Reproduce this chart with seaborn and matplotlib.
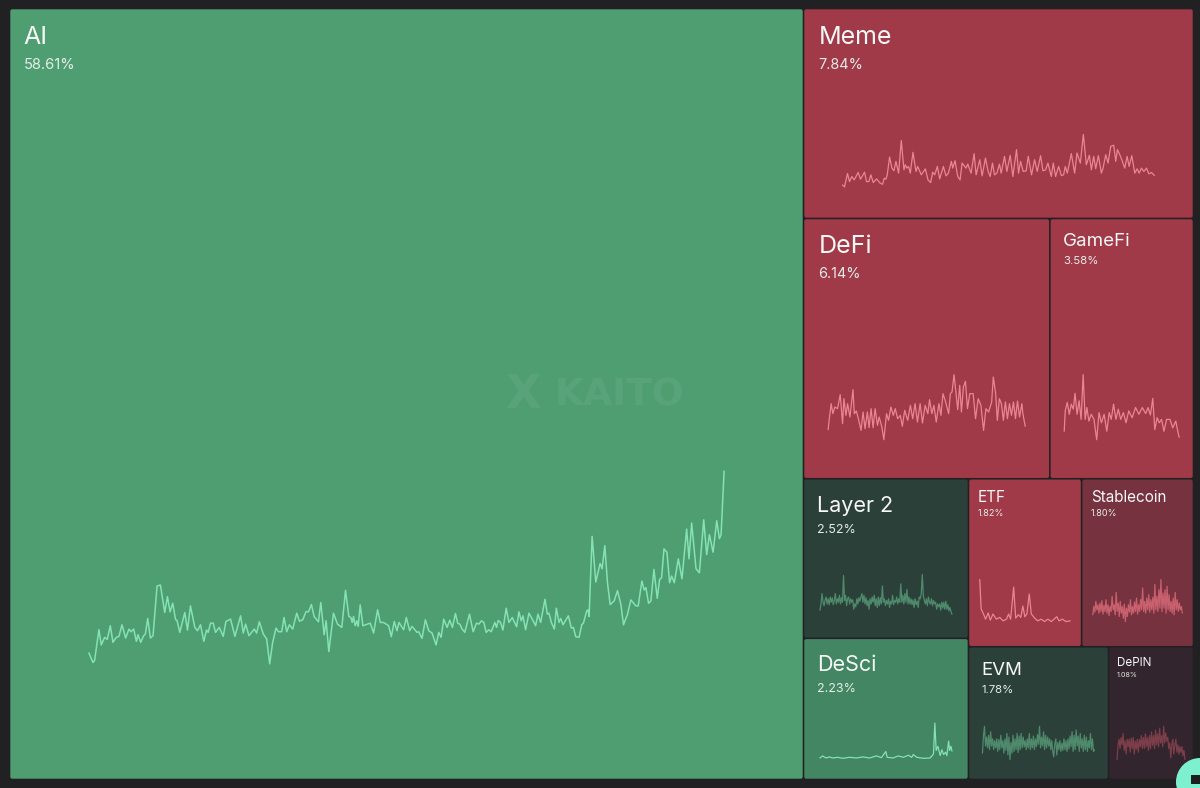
"""
Narrative mindshare treemap with a small trend line in every sector.
"""

import matplotlib.pyplot as plt
from matplotlib.patches import Circle, FancyBboxPatch, Rectangle
import seaborn as sns


# Sector names and mindshare (%)
SECTORS = ['AI', 'Meme', 'DeFi', 'GameFi', 'Layer 2', 'DeSci',
           'ETF', 'Stablecoin', 'EVM', 'DePIN']
SHARES = [58.61, 7.84, 6.14, 3.58, 2.52, 2.23, 1.82, 1.80, 1.78, 1.08]

# Trend series (relative units, each has its own scale)
AI_T = [0, 12, 17, 30, 37, 47, 55, 64, 72, 82, 90, 99, 110, 120, 126, 134, 142, 147, 155, 164,
        169, 176, 184, 192, 204, 214, 227, 235, 243, 251, 259, 264, 272, 287, 295, 304, 317, 325,
        334, 344, 352, 357, 364, 372, 379, 390, 402, 410, 424, 437, 454, 462, 469, 479, 495, 502,
        510, 522, 532, 541, 550, 560, 567, 577, 584, 592, 600, 610, 622, 630, 640, 650, 657, 666,
        674, 687, 694, 704, 710, 718, 732, 744, 757, 768, 778, 784, 788, 792, 797, 802, 806, 812,
        820, 842, 852, 864, 872, 882, 897, 905, 914, 922, 928, 942, 950, 960, 967, 974, 982, 987,
        997, 1007, 1017, 1027, 1039, 1047, 1054, 1062, 1072, 1080, 1088, 1097, 1104, 1110, 1117,
        1125, 1139, 1150, 1160, 1167, 1175, 1182, 1189, 1197, 1204, 1215, 1220, 1225, 1232, 1239,
        1249, 1257, 1267, 1280, 1287, 1294, 1299, 1307, 1317, 1327, 1337, 1344, 1352, 1365, 1372,
        1377, 1384, 1393, 1399, 1407, 1412, 1419, 1435, 1444, 1450, 1457, 1467, 1475, 1480, 1490,
        1494, 1497, 1506, 1517, 1530, 1536, 1544, 1552, 1560, 1572, 1582, 1592, 1600, 1612, 1622,
        1637, 1644, 1655, 1662, 1667, 1675, 1682, 1691, 1701, 1708, 1714, 1721, 1730, 1738, 1744,
        1752, 1764, 1775, 1789, 1796, 1804, 1817, 1827, 1840, 1849, 1857, 1868, 1879, 1887, 1892,
        1901]
AI_V = [38, 9, 15, 108, 62, 85, 79, 120, 70, 85, 88, 123, 83, 110, 102, 110, 73, 93, 70, 90,
        95, 142, 83, 90, 240, 243, 160, 208, 162, 188, 140, 135, 100, 160, 107, 180, 115, 105,
        123, 73, 107, 100, 128, 128, 100, 115, 88, 133, 140, 88, 150, 98, 125, 90, 110, 98,
        132, 95, 80, 5, 70, 113, 102, 102, 145, 102, 123, 110, 158, 134, 138, 163, 162, 184,
        148, 132, 190, 93, 135, 42, 158, 125, 115, 227, 148, 145, 130, 148, 120, 135, 118, 183,
        120, 128, 98, 168, 130, 130, 120, 87, 133, 105, 130, 108, 145, 105, 118, 110, 100, 102,
        82, 138, 105, 98, 62, 100, 85, 140, 115, 137, 115, 157, 127, 125, 110,
        100, 155, 102, 128, 125, 135, 130, 100, 108, 102, 130, 115, 136, 130, 107,
        173, 130, 145, 117, 162, 135, 150, 108, 158, 140, 120, 155, 130, 200, 155,
        158, 130, 110, 173, 130, 142, 123, 150, 113, 115, 87, 85, 123, 128, 165,
        168, 148, 390, 252, 308, 292, 362, 250, 184, 195, 226, 185, 123, 155, 198,
        180, 180, 255, 228, 235, 188, 195, 290, 203, 260, 265, 352, 342, 250, 270,
        250, 322, 262, 412, 322, 430, 292, 280, 440, 335, 395, 342, 437, 383, 395,
        587]

MEME_T = [0, 6, 15, 21, 28, 35, 47, 54, 66, 72, 79, 85, 92, 102, 113, 120, 125, 130, 134, 141,
          148, 154, 160, 168, 176, 184, 188, 193, 198, 203, 211, 220, 225, 236, 248, 256, 264,
          270, 276, 284, 291, 302, 310, 317, 326, 330, 337, 345, 352, 358, 370, 375, 385, 394,
          400, 411, 418, 428, 436, 442, 449, 455, 462, 470, 475, 485, 492, 502, 510, 521, 527,
          533, 541, 550, 556, 566, 575, 583, 593, 600, 608, 615, 625, 631, 638, 647, 655, 662,
          667, 673, 685, 695, 702, 712, 721, 730, 739, 745, 752, 758, 766, 775, 780, 788, 795,
          803, 812, 818, 823, 830, 836, 845, 852, 858, 866, 875, 882, 888, 895, 902, 910, 917,
          925, 934]
MEME_V = [10, 4, 44, 20, 35, 25, 47, 27, 48, 20, 20, 40, 17, 28, 15, 12, 30, 27, 40, 93,
          60, 52, 80, 45, 142, 55, 70, 60, 65, 45, 107, 50, 65, 40, 58, 25, 17,
          48, 40, 65, 28, 65, 37, 45, 80, 60, 82, 35, 25, 75, 60, 72, 45, 103,
          40, 85, 37, 90, 50, 35, 75, 40, 45, 72, 45, 95, 50, 98, 35, 115, 45,
          80, 50, 52, 95, 40, 85, 50, 97, 52, 55, 75, 35, 75, 35, 65, 38, 40,
          65, 45, 103, 45, 105, 75, 160, 70, 98, 55, 95, 58, 97, 45, 60, 100, 75,
          125, 128, 80, 115, 100, 85, 60, 95, 65, 97, 45, 58, 45, 60, 50, 60, 43,
          47, 38]

DEFI_T = [0, 3, 9, 14, 20, 28, 36, 43, 47, 53, 58, 65, 74, 78, 84, 90, 98, 104, 110, 117, 122,
          128, 134, 140, 147, 152, 160, 166, 174, 180, 187, 194, 200, 207, 215, 221, 228, 237,
          245, 252, 259, 266, 274, 281, 289, 297, 302, 309, 315, 322, 330, 336, 342, 350, 359,
          364, 369, 375, 380, 386, 392, 397, 403, 409, 415, 422, 432, 439, 447, 455, 463, 470,
          478, 487, 492, 499, 504, 510, 516, 522, 528, 534, 540, 546, 552, 558, 564, 570, 577,
          580, 587]
DEFI_V = [32, 60, 110, 80, 100, 95, 137, 50, 125, 75, 110, 70, 152, 80, 88, 65, 30, 85, 35, 85, 38,
          95, 38, 95, 45, 70, 40, 2, 80, 60, 100, 75, 95, 65, 75, 42, 90, 60,
          105, 65, 110, 55, 110, 52, 105, 80, 122, 80, 105, 55, 110, 75, 140, 115, 80,
          140, 145, 197, 150, 92, 165, 85, 160, 177, 95, 140, 140, 65, 125, 105, 30, 95,
          85, 115, 190, 140, 60, 125, 110, 60, 115, 65, 110, 75, 115, 65, 118, 70, 110,
          80, 42]

GAMEFI_T = [0, 3, 9, 15, 21, 27, 32, 38, 44, 50, 56, 62, 67, 73, 80, 88, 96, 103, 110, 118, 126,
            133, 139, 146, 153, 160, 167, 175, 183, 191, 201, 211, 221, 231, 241, 248, 255, 262,
            268, 275, 281, 288, 295, 303, 313, 321, 330, 336, 340]
GAMEFI_V = [30, 90, 115, 80, 110, 95, 142, 80, 120, 65, 197, 65, 100, 60, 80, 65, 5, 85, 55, 80, 30,
            85, 65, 110, 65, 95, 65, 85, 55, 90, 70, 100, 80, 100, 82, 100, 78, 127,
            35, 70, 55, 65, 30, 65, 65, 40, 60, 30, 12]

# Dense series, one value per sample
LAYER2_V = [12, 30, 60, 35, 25, 42, 50, 30, 45, 28, 50, 35, 48, 28, 40, 60, 30, 45, 35, 55,
            30, 48, 35, 112, 40, 55, 25, 45, 50, 30, 45, 35, 42, 15, 30, 22, 45, 30, 48, 38,
            50, 60, 35, 55, 30, 48, 25, 40, 15, 45, 30, 50, 35, 55, 25, 45, 20, 50, 25, 48,
            30, 82, 35, 45, 25, 40, 30, 45, 20, 38, 30, 55, 28, 40, 35, 50, 30, 45, 35, 88,
            35, 55, 30, 60, 35, 72, 30, 50, 30, 45, 28, 42, 20, 45, 28, 38, 20, 50, 45, 60,
            115, 55, 40, 30, 45, 25, 50, 35, 30, 45, 25, 40, 30, 35, 15, 30, 22, 30, 12, 35,
            18, 35, 15, 38, 15, 28, 10, 20, 8, 0]

DESCI_T = [0, 8, 18, 28, 38, 53, 68, 88, 108, 128, 148, 168, 183, 196, 200, 218, 233, 248, 263,
           273, 278, 288, 308, 328, 334, 338, 342, 346, 351, 358, 363, 368, 374, 378, 383, 386,
           390, 393]
DESCI_V = [3, 9, 3, 6, 3, 5, 2, 5, 3, 6, 3, 9, 4, 22, 5, 3, 9, 5, 11,
           5, 13, 5, 2, 3, 10, 15, 105, 25, 37, 10, 27, 13, 20, 10, 52, 25,
           37, 23]

ETF_T = [0, 4, 11, 17, 25, 31, 39, 49, 59, 69, 79, 85, 91, 100, 106, 114, 121, 127, 133, 139,
         146, 152, 162, 171, 181, 191, 201, 211, 219, 227, 234, 244, 254, 267]
ETF_V = [125, 40, 25, 10, 28, 7, 25, 10, 15, 5, 10, 25, 10, 103, 13, 23, 15, 48, 17, 25,
         83, 25, 13, 5, 10, 3, 10, 3, 10, 17, 5, 10, 3, 5]

STABLECOIN_V = [20, 45, 28, 60, 35, 50, 25, 55, 30, 62, 22, 48, 30, 65, 25, 50, 18, 45, 30, 75,
                35, 50, 20, 87, 30, 55, 15, 60, 25, 45, 10, 52, 0, 40, 15, 50, 28, 65, 20, 45,
                25, 58, 30, 70, 22, 50, 30, 66, 35, 100, 30, 60, 25, 70, 35, 80, 28, 65, 35, 72,
                25, 110, 35, 75, 30, 95, 40, 125, 30, 85, 40, 95, 25, 105, 35, 80, 30, 60, 25, 70,
                20, 87, 35, 65, 30, 55, 35, 45, 25]

EVM_V = [20, 70, 95, 40, 65, 35, 70, 30, 80, 40, 60, 30, 55, 35, 60, 25, 58, 30, 70, 35,
         55, 20, 60, 28, 75, 15, 65, 2, 50, 20, 70, 25, 60, 30, 75, 22, 68, 30, 75, 35,
         65, 38, 55, 30, 60, 35, 75, 30, 60, 35, 68, 30, 60, 38, 72, 45, 95, 35, 65, 40,
         80, 30, 70, 35, 65, 40, 60, 30, 55, 25, 10, 45, 60, 15, 50, 30, 55, 25, 48, 28,
         60, 30, 55, 25, 60, 32, 68, 38, 80, 25, 70, 30, 85, 40, 68, 25, 75, 35, 60, 25,
         70, 30, 65, 25, 55, 35, 75, 30, 60, 25, 30]

DEPIN_V = [0, 40, 55, 30, 60, 40, 70, 25, 50, 15, 55, 35, 55, 20, 58, 30, 60, 15, 50, 28,
           55, 20, 55, 35, 65, 30, 60, 30, 70, 35, 60, 25, 65, 30, 75, 38, 65, 30, 80, 40,
           70, 35, 85, 45, 65, 35, 90, 45, 72, 50, 60, 30, 45, 5, 40, 55, 15, 40, 55, 20,
           40, 15, 35, 20, 35, 10, 25, 0]

SERIES = {
    'AI': (AI_T, AI_V), 'Meme': (MEME_T, MEME_V), 'DeFi': (DEFI_T, DEFI_V),
    'GameFi': (GAMEFI_T, GAMEFI_V), 'Layer 2': (None, LAYER2_V),
    'DeSci': (DESCI_T, DESCI_V), 'ETF': (ETF_T, ETF_V),
    'Stablecoin': (None, STABLECOIN_V), 'EVM': (None, EVM_V),
    'DePIN': (None, DEPIN_V),
}

# Nesting of the treemap: h = side by side, v = stacked
TREE = ('h', ['AI', ('v', ['Meme', ('h', ['DeFi', 'GameFi']),
                           ('h', [('v', ['Layer 2', 'DeSci']),
                                  ('v', [('h', ['ETF', 'Stablecoin']),
                                         ('h', ['EVM', 'DePIN'])])])])])

# Cell colour, line colour
COLORS = {
    'AI': ('#4f9e72', '#84e2b4'), 'Meme': ('#a03948', '#ea8694'),
    'DeFi': ('#a03948', '#ea8694'), 'GameFi': ('#a03948', '#ea8694'),
    'Layer 2': ('#2c403a', '#4f8a6d'), 'DeSci': ('#438663', '#84e2b4'),
    'ETF': ('#a03948', '#ea8694'), 'Stablecoin': ('#76323e', '#c8606e'),
    'EVM': ('#2c403a', '#4f8a6d'), 'DePIN': ('#33252d', '#7b3e4a'),
}

# Title size, percent size (pt), left pad, title top, percent top (px)
TEXT_TIERS = {
    'top': (18, 10.6, 14, 17, 49),
    'xl': (18, 10.4, 15, 17, 49),
    'lg': (15.5, 9, 14, 17, 45),
    'md': (13.5, 8.2, 13, 15, 38),
    'sm': (11, 6.6, 9.5, 11, 30),
    'xs': (8.4, 5.2, 8.5, 10, 25),
}
TIER_OF = {'AI': 'top', 'Meme': 'xl', 'DeFi': 'xl', 'GameFi': 'md', 'Layer 2': 'lg',
           'DeSci': 'lg', 'ETF': 'sm', 'Stablecoin': 'sm', 'EVM': 'md', 'DePIN': 'xs'}

BACKGROUND = '#212124'
WIDTH, HEIGHT = 1200, 788
BOUNDS = (9.5, 8.5, 1193.5, 779.5)


def tree_total(node):
    if isinstance(node, str):
        return SHARES[SECTORS.index(node)]
    return sum(tree_total(child) for child in node[1])


def layout(node, x0, y0, x1, y1, cells):
    """Split a rectangle by share, following the nesting in TREE."""
    if isinstance(node, str):
        cells[node] = (x0, y0, x1, y1)
        return cells
    direction, children = node
    total = tree_total(node)
    pos = x0 if direction == 'h' else y0
    for child in children:
        frac = tree_total(child) / total
        if direction == 'h':
            end = pos + (x1 - x0) * frac
            layout(child, pos, y0, end, y1, cells)
        else:
            end = pos + (y1 - y0) * frac
            layout(child, x0, pos, x1, end, cells)
        pos = end
    return cells


sns.set_theme(style='white')
plt.rcParams['font.family'] = ['Inter', 'DejaVu Sans']

fig = plt.figure(figsize=(WIDTH / 100, HEIGHT / 100), dpi=100, facecolor=BACKGROUND)
ax = fig.add_axes([0, 0, 1, 1])
ax.set_xlim(0, WIDTH)
ax.set_ylim(HEIGHT, 0)
ax.axis('off')

cells = layout(TREE, *BOUNDS, {})

for name in SECTORS:
    x0, y0, x1, y1 = cells[name]
    fill, line = COLORS[name]
    ax.add_patch(FancyBboxPatch((x0 + 1.8, y0 + 1.8), x1 - x0 - 3.6, y1 - y0 - 3.6,
                                boxstyle='round,pad=1,rounding_size=2',
                                facecolor=fill, edgecolor='none', zorder=1))

    title_pt, pct_pt, pad, title_top, pct_top = TEXT_TIERS[TIER_OF[name]]
    pct = SHARES[SECTORS.index(name)]
    ax.text(x0 + pad, y0 + title_top, name, fontsize=title_pt, color='#f6f7f6',
            va='top', ha='left', zorder=3)
    ax.text(x0 + pad, y0 + pct_top, f'{pct:.2f}%', fontsize=pct_pt, color='#e6ece8',
            va='top', ha='left', zorder=3)

    # The trend line takes the middle 80% of the width, from 15% to 40% of the height
    w, h = x1 - x0, y1 - y0
    spark = fig.add_axes([(x0 + 0.1 * w) / WIDTH, (HEIGHT - y1 + 0.15 * h) / HEIGHT,
                          0.8 * w / WIDTH, 0.25 * h / HEIGHT])
    t, v = SERIES[name]
    if t is None:
        t = list(range(len(v)))
    sns.lineplot(x=t, y=v, ax=spark, color=line, estimator=None, sort=False,
                 linewidth=1.1 if name == 'AI' else 0.9, clip_on=False)
    spark.set_xlim(min(t), max(t))
    spark.set_ylim(min(v), max(v))
    spark.axis('off')

# Watermark in the AI cell
x0, y0, x1, y1 = cells['AI']
wm_x = x0 + 0.687 * (x1 - x0)
wm_y = y0 + 0.502 * (y1 - y0)
ax.text(wm_x, wm_y, 'KAITO', fontsize=27, fontweight='bold', family='DejaVu Sans',
        color='white', alpha=0.06, ha='left', va='center', zorder=2)
ax.text(wm_x - 32, wm_y, 'X', fontsize=33, fontweight='bold', family='DejaVu Sans',
        color='white', alpha=0.06, ha='center', va='center', zorder=2)

# Chat button cut off by the corner of the screenshot
ax.add_patch(Circle((1200, 782), 24, facecolor='#7df0d0', edgecolor='none', zorder=5))
ax.add_patch(Rectangle((1191, 775), 9, 9, facecolor='#1b1f1f', edgecolor='none', zorder=6))

plt.savefig('out.png', dpi=100, facecolor=BACKGROUND)
